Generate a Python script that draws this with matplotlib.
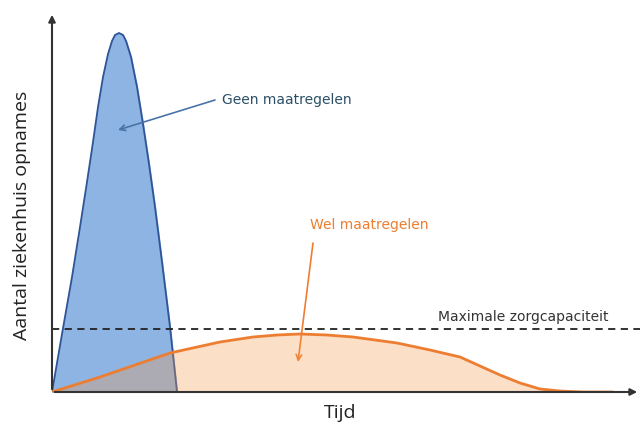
import matplotlib.pyplot as plt

# (tijd in willekeurige eenheden, opnames idem)
t_geen = [0, 10, 20, 28, 35, 41, 46, 51, 56, 60, 63, 67, 71, 74, 79, 85, 91, 97, 103, 110, 118, 125]
v_geen = [0, 58, 115, 165, 210, 250, 285, 315, 338, 351, 357, 359, 357, 351, 335, 305, 268, 228, 185, 130, 65, 0]

t_wel = [0, 48, 118, 168, 201, 225, 248, 275, 301, 345, 378, 408, 428, 448, 468, 488, 508, 530, 560]
v_wel = [0, 15, 39, 50, 55, 57, 58, 57, 55, 49, 42, 35, 26, 17, 9, 3, 1, 0, 0]

capaciteit = 63

fig = plt.figure(figsize=(6.43, 4.30), dpi=100)
ax = fig.add_axes([52 / 643, 38 / 430, 588 / 643, 380 / 430])
ax.set_xlim(0, 588)
ax.set_ylim(0, 380)

ax.fill_between(t_geen, v_geen, color='#8db4e2', zorder=2)
ax.plot(t_geen, v_geen, color='#2f5597', lw=1.3, zorder=3)
ax.fill_between(t_wel, v_wel, color='#f79646', alpha=0.3, lw=0, zorder=4)
ax.plot(t_wel, v_wel, color='#ed7d31', lw=2, zorder=5)

ax.axhline(capaciteit, color='#222222', ls=(0, (4, 3)), lw=1.3, zorder=6)

for s in ax.spines.values():
    s.set_visible(False)
ax.set_xticks([])
ax.set_yticks([])

# assen met pijlpunten
ax.annotate('', xy=(0, 1.0), xytext=(0, 0), xycoords='axes fraction',
            arrowprops=dict(arrowstyle='-|>', color='#333333', lw=1.5, mutation_scale=10), zorder=7)
ax.annotate('', xy=(1.0, 0), xytext=(0, 0), xycoords='axes fraction',
            arrowprops=dict(arrowstyle='-|>', color='#333333', lw=1.5, mutation_scale=10), zorder=7)

ax.text(170, 292, 'Geen maatregelen', color='#2b5066', fontsize=10,
        family='DejaVu Sans', va='center')
ax.annotate('', xy=(66, 262), xytext=(163, 292),
            arrowprops=dict(arrowstyle='->', color='#4a74a8', lw=1.2, shrinkA=0, shrinkB=0))
ax.text(258, 167, 'Wel maatregelen', color='#ed7d31', fontsize=10,
        family='DejaVu Sans', va='center')
ax.annotate('', xy=(246, 30), xytext=(261, 149),
            arrowprops=dict(arrowstyle='->', color='#ed7d31', lw=1.2, shrinkA=0, shrinkB=0))
ax.text(386, 75, 'Maximale zorgcapaciteit', color='#333333', fontsize=10,
        family='DejaVu Sans', va='center')

fig.text(340 / 643, 1 - 413 / 430, 'Tijd', fontsize=14, family='Open Sans',
         ha='center', va='center', color='#222222')
fig.text(22 / 643, 1 - 215 / 430, 'Aantal ziekenhuis opnames', fontsize=14,
         family='Open Sans', ha='center', va='center', rotation=90, color='#222222')

fig.savefig('out.png', dpi=100)
